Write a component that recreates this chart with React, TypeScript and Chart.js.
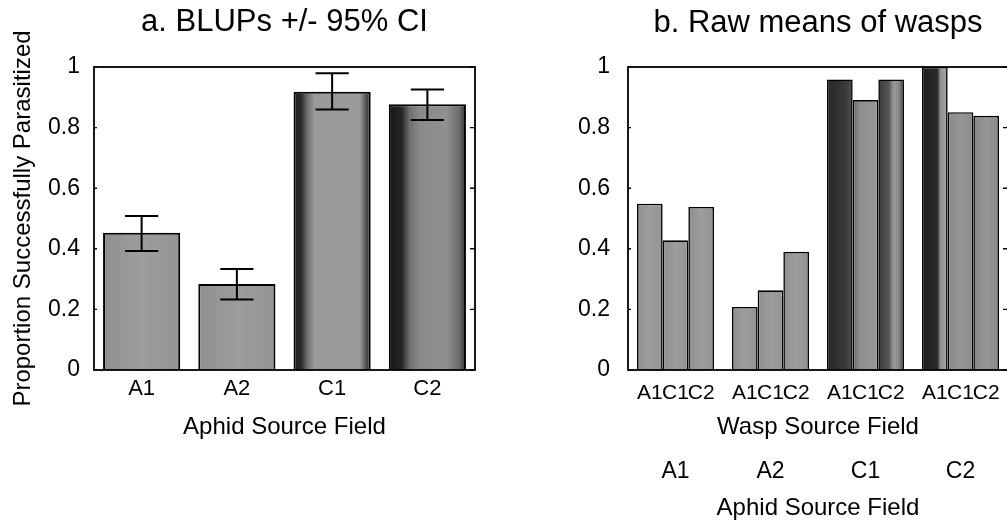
import React, { useEffect, useRef } from 'react';
import { Chart, registerables } from 'chart.js';

Chart.register(...registerables);
Chart.defaults.font.family = '"Liberation Sans", Arial, Helvetica, sans-serif';
Chart.defaults.color = '#000';

// ---------- data ----------
const aphidFields = ['A1', 'A2', 'C1', 'C2'];
const waspFields = ['A1', 'C1', 'C2'];
const yTickLabels = ['0', '0.2', '0.4', '0.6', '0.8', '1'];

const blupMeans = [0.453, 0.284, 0.918, 0.877];
const blupLower = [0.393, 0.233, 0.86, 0.825];
const blupUpper = [0.508, 0.333, 0.979, 0.926];

const rawWaspA1 = [0.549, 0.208, 0.959, 1.0];
const rawWaspC1 = [0.428, 0.263, 0.891, 0.851];
const rawWaspC2 = [0.538, 0.39, 0.959, 0.839];

// ---------- styles ----------
type Stop = [number, string];
const LIGHT: Stop[] = [[0, '#8f8f8f'], [0.5, '#9d9d9d'], [1, '#939393']];
const A_C1: Stop[] = [[0, '#1c1c1c'], [0.1, '#2a2a2a'], [0.17, '#6a6a6a'], [0.27, '#9a9a9a'], [0.86, '#9a9a9a'], [0.94, '#555555'], [1, '#222222']];
const A_C2: Stop[] = [[0, '#161616'], [0.17, '#262626'], [0.27, '#707070'], [0.4, '#8a8a8a'], [0.75, '#909090'], [0.92, '#6a6a6a'], [1, '#262626']];
const B_C1A1: Stop[] = [[0, '#262626'], [0.7, '#383838'], [1, '#505050']];
const B_C1C1: Stop[] = [[0, '#6a6a6a'], [0.3, '#8e8e8e'], [1, '#999999']];
const B_C1C2: Stop[] = [[0, '#3a3a3a'], [0.4, '#555555'], [0.6, '#9a9a9a'], [0.8, '#8a8a8a'], [1, '#3a3a3a']];
const B_C2A1: Stop[] = [[0, '#1e1e1e'], [0.6, '#2c2c2c'], [0.72, '#909090'], [1, '#a8a8a8']];
const B_C2X: Stop[] = [[0, '#888888'], [0.5, '#959595'], [1, '#8a8a8a']];
const fillsA: Stop[][] = [LIGHT, LIGHT, A_C1, A_C2];
const fillsB: Stop[][][] = [
  [LIGHT, LIGHT, LIGHT],
  [LIGHT, LIGHT, LIGHT],
  [B_C1A1, B_C1C1, B_C1C2],
  [B_C2A1, B_C2X, B_C2X],
];

const FONT_TICK_Y = 23;
const FONT_TICK_X = 22;
const FONT_AXIS = 24;
const FONT_TITLE = 31;

// ---------- plugins ----------
const barFillPlugin = {
  id: 'barFill',
  beforeDatasetsDraw(chart: any, _args: any, opts: any) {
    const ctx = chart.ctx as CanvasRenderingContext2D;
    chart.data.datasets.forEach((_ds: any, di: number) => {
      const meta = chart.getDatasetMeta(di);
      meta.data.forEach((el: any, i: number) => {
        const stops: Stop[] = opts.profile(di, i);
        const l = el.x - el.width / 2;
        const r = el.x + el.width / 2;
        const g = ctx.createLinearGradient(l, 0, r, 0);
        stops.forEach(([o, c]) => g.addColorStop(o, c));
        el.options = Object.assign({}, el.options, { backgroundColor: g });
      });
    });
  },
};

const framePlugin = {
  id: 'frame',
  afterDraw(chart: any, _args: any, opts: any) {
    const ctx = chart.ctx as CanvasRenderingContext2D;
    const { left, right, top, bottom } = chart.chartArea;
    const y = chart.scales.y;
    ctx.save();
    ctx.strokeStyle = '#000';
    ctx.lineWidth = 1.8;
    ctx.strokeRect(left, top, right - left, bottom - top);
    ctx.lineWidth = 1.4;
    y.ticks.forEach((t: any) => {
      const py = y.getPixelForValue(t.value);
      ctx.beginPath();
      ctx.moveTo(left, py);
      ctx.lineTo(left + opts.inL, py);
      ctx.moveTo(right - opts.inR, py);
      ctx.lineTo(right, py);
      ctx.stroke();
    });
    ctx.restore();
  },
};

const errorBarPlugin = {
  id: 'errorBars',
  afterDatasetsDraw(chart: any) {
    const ctx = chart.ctx as CanvasRenderingContext2D;
    const y = chart.scales.y;
    const meta = chart.getDatasetMeta(0);
    ctx.save();
    ctx.strokeStyle = '#000';
    ctx.lineWidth = 2;
    meta.data.forEach((el: any, i: number) => {
      const yl = y.getPixelForValue(blupLower[i]);
      const yu = y.getPixelForValue(blupUpper[i]);
      const half = el.width * 0.215;
      ctx.beginPath();
      ctx.moveTo(el.x, yu);
      ctx.lineTo(el.x, yl);
      ctx.moveTo(el.x - half, yu);
      ctx.lineTo(el.x + half, yu);
      ctx.moveTo(el.x - half, yl);
      ctx.lineTo(el.x + half, yl);
      ctx.stroke();
    });
    ctx.restore();
  },
};

const waspLabelPlugin = {
  id: 'waspLabels',
  afterDraw(chart: any) {
    const ctx = chart.ctx as CanvasRenderingContext2D;
    const { left, right, bottom } = chart.chartArea;
    ctx.save();
    ctx.fillStyle = '#000';
    ctx.textAlign = 'center';
    ctx.textBaseline = 'middle';
    ctx.font = `21px ${Chart.defaults.font.family}`;
    chart.data.datasets.forEach((_ds: any, di: number) => {
      const meta = chart.getDatasetMeta(di);
      meta.data.forEach((el: any) => {
        ctx.fillText(waspFields[di], el.x, bottom + 23);
      });
    });
    ctx.font = `${FONT_AXIS}px ${Chart.defaults.font.family}`;
    ctx.fillText('Wasp Source Field', (left + right) / 2, bottom + 57);
    ctx.restore();
  },
};

// ---------- configs ----------
function yScale(width: number, pad: number, title?: any) {
  return {
    min: 0,
    max: 1,
    grid: { display: false, drawTicks: false },
    border: { display: false },
    ticks: {
      stepSize: 0.2,
      padding: pad,
      font: { size: FONT_TICK_Y },
      callback: (_v: any, i: number) => yTickLabels[i],
    },
    title,
    afterFit: (s: any) => {
      s.width = width;
    },
  };
}

function xAfterFit(s: any) {
  s.height = 155;
  s.paddingLeft = 0;
  s.paddingRight = 0;
}

function makeConfigA(): any {
  return {
    type: 'bar',
    data: {
      labels: aphidFields,
      datasets: [
        {
          label: 'BLUP',
          data: blupMeans,
          backgroundColor: '#999',
          borderColor: '#000',
          borderWidth: 2,
          categoryPercentage: 1,
          barPercentage: 0.81,
        },
      ],
    },
    options: {
      responsive: false,
      animation: false,
      layout: { padding: { left: 0, right: 25, top: 0, bottom: 0 } },
      plugins: {
        legend: { display: false },
        tooltip: { enabled: false },
        title: {
          display: true,
          text: 'a. BLUPs +/- 95% CI',
          fullSize: false,
          color: '#000',
          font: { size: FONT_TITLE, weight: 'normal' },
          padding: { top: 4, bottom: 25.8 },
        },
        frame: { inL: 3, inR: 5 },
        barFill: { profile: (_di: number, i: number) => fillsA[i] },
      },
      scales: {
        x: {
          grid: { display: false, drawTicks: false },
          border: { display: false },
          ticks: { padding: 6, font: { size: FONT_TICK_X } },
          title: {
            display: true,
            text: 'Aphid Source Field',
            font: { size: FONT_AXIS },
            padding: { top: 0, bottom: 83.6 },
          },
          afterFit: xAfterFit,
        },
        y: yScale(94, 14, {
          display: true,
          text: 'Proportion Successfully Parasitized',
          font: { size: FONT_AXIS },
          padding: { top: 9, bottom: 0 },
        }),
      },
    },
    plugins: [barFillPlugin, errorBarPlugin, framePlugin],
  };
}

function makeConfigB(): any {
  const series = [rawWaspA1, rawWaspC1, rawWaspC2];
  return {
    type: 'bar',
    data: {
      labels: aphidFields,
      datasets: series.map((d, di) => ({
        label: waspFields[di],
        data: d,
        backgroundColor: '#999',
        borderColor: '#000',
        borderWidth: 1.6,
        categoryPercentage: 0.81,
        barPercentage: 1,
      })),
    },
    options: {
      responsive: false,
      animation: false,
      layout: { padding: { left: 0, right: 12, top: 0, bottom: 0 } },
      plugins: {
        legend: { display: false },
        tooltip: { enabled: false },
        title: {
          display: true,
          text: 'b. Raw means of wasps',
          fullSize: false,
          color: '#000',
          font: { size: FONT_TITLE, weight: 'normal' },
          padding: { top: 5, bottom: 24.8 },
        },
        frame: { inL: 3, inR: 5 },
        barFill: { profile: (di: number, i: number) => fillsB[i][di] },
      },
      scales: {
        x: {
          grid: { display: false, drawTicks: false },
          border: { display: false },
          ticks: { padding: 88, font: { size: FONT_TICK_X + 1 } },
          title: {
            display: true,
            text: 'Aphid Source Field',
            font: { size: FONT_AXIS },
            padding: { top: 0, bottom: 2 },
          },
          afterFit: xAfterFit,
        },
        y: yScale(128, 18),
      },
    },
    plugins: [barFillPlugin, framePlugin, waspLabelPlugin],
  };
}

export default function App() {
  const refA = useRef<HTMLCanvasElement>(null);
  const refB = useRef<HTMLCanvasElement>(null);
  useEffect(() => {
    const a = new Chart(refA.current as HTMLCanvasElement, makeConfigA());
    const b = new Chart(refB.current as HTMLCanvasElement, makeConfigB());
    return () => {
      a.destroy();
      b.destroy();
    };
  }, []);
  return (
    <div
      style={{
        position: 'absolute',
        left: 0,
        top: 0,
        width: 1007,
        height: 525,
        overflow: 'hidden',
        background: '#fff',
      }}
    >
      <canvas
        ref={refA}
        width={500}
        height={525}
        style={{ position: 'absolute', left: 0, top: 0, width: 500, height: 525 }}
      />
      <canvas
        ref={refB}
        width={520}
        height={525}
        style={{ position: 'absolute', left: 500, top: 0, width: 520, height: 525 }}
      />
    </div>
  );
}
